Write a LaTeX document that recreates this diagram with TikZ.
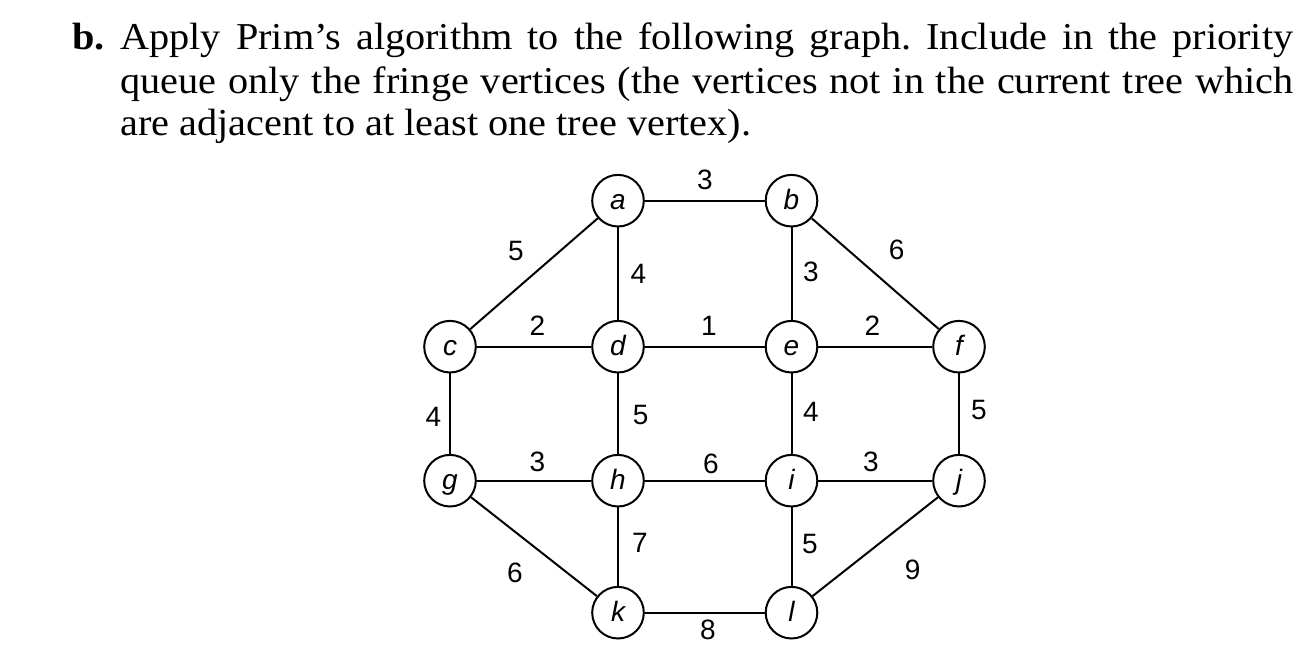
\documentclass[tikz,border=0pt]{standalone}
\usepackage{fontspec}
\setmainfont{Liberation Serif}[FakeStretch=1.06]
\newfontfamily\lblfont{Liberation Sans}
\frenchspacing
\begin{document}
\begin{tikzpicture}[x=0.5pt,y=-0.5pt,
 vtx/.style={circle,draw,line width=1pt,fill=white,minimum size=25.8pt,inner sep=0pt,
   font=\lblfont\fontsize{14}{16}\selectfont\itshape,text height=9pt,text depth=0pt},
 wt/.style={font=\lblfont\fontsize{14}{16}\selectfont,inner sep=0pt},
 link/.style={line width=1pt},
 body/.style={font=\fontsize{19}{22}\selectfont\frenchspacing,inner sep=0pt,anchor=base west}]
\useasboundingbox (0,0) rectangle (1312,656);
% text
\node[body] (bl) at (71.7,50) {\bfseries b.};
\node[body] (l1) at (120,50) {\makebox[586.5pt][s]{Apply Prim’s algorithm to the following graph. Include in the priority}};
\node[body] (l2) at (120,93.3) {\makebox[586.5pt][s]{queue only the fringe vertices (the vertices not in the current tree which}};
\node[body] (l3) at (120,135.5) {are adjacent to at least one tree vertex).};
% vertices
\node[vtx] (a) at (618,200.7) {a};
\node[vtx] (b) at (791.5,200.7) {b};
\node[vtx] (c) at (450,346.7) {c};
\node[vtx] (d) at (618,346.7) {d};
\node[vtx] (e) at (791.5,346.7) {e};
\node[vtx] (f) at (959,346.7) {f};
\node[vtx] (g) at (450,480.7) {g};
\node[vtx] (h) at (618,480.7) {h};
\node[vtx] (i) at (791.5,480.7) {i};
\node[vtx] (j) at (959,480.7) {j};
\node[vtx] (k) at (618,612.7) {k};
\node[vtx] (l) at (791.5,612.7) {l};
% edges
\draw[link] (a) -- (b);
\draw[link] (a) -- (c);
\draw[link] (a) -- (d);
\draw[link] (b) -- (e);
\draw[link] (b) -- (f);
\draw[link] (c) -- (d);
\draw[link] (d) -- (e);
\draw[link] (e) -- (f);
\draw[link] (c) -- (g);
\draw[link] (d) -- (h);
\draw[link] (e) -- (i);
\draw[link] (f) -- (j);
\draw[link] (g) -- (h);
\draw[link] (h) -- (i);
\draw[link] (i) -- (j);
\draw[link] (g) -- (k);
\draw[link] (h) -- (k);
\draw[link] (i) -- (l);
\draw[link] (j) -- (l);
\draw[link] (k) -- (l);
% weights
\node[wt] (wab) at (705,180) {3};
\node[wt] (wac) at (516,251) {5};
\node[wt] (wad) at (638.3,273.5) {4};
\node[wt] (wbe) at (811,271.7) {3};
\node[wt] (wbf) at (896.7,250) {6};
\node[wt] (wcd) at (537.5,326) {2};
\node[wt] (wde) at (709,326) {1};
\node[wt] (wef) at (872.5,326) {2};
\node[wt] (wcg) at (433.3,417) {4};
\node[wt] (wdh) at (640.7,415) {5};
\node[wt] (wei) at (811,411.7) {4};
\node[wt] (wfj) at (979,410) {5};
\node[wt] (wgh) at (537.5,461.7) {3};
\node[wt] (whi) at (711,464) {6};
\node[wt] (wij) at (871,461.7) {3};
\node[wt] (whk) at (640,543) {7};
\node[wt] (wil) at (810,544) {5};
\node[wt] (wgk) at (515,573.3) {6};
\node[wt] (wjl) at (912.7,570) {9};
\node[wt] (wkl) at (708,630) {8};
\end{tikzpicture}
\end{document}
